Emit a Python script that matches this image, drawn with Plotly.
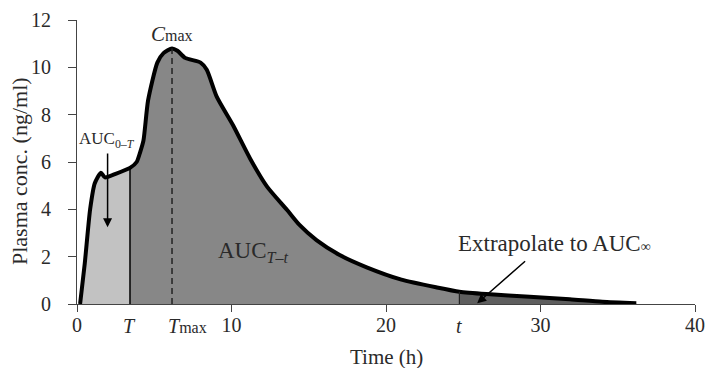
import plotly.graph_objects as go

# ---- data ----
time_h = [0.2, 0.5, 0.85, 1.15, 1.55, 1.81, 2.5, 3.43, 3.86, 4.08, 4.3, 4.6, 5.2, 5.6,
          6.15, 6.5, 7.0, 8.0, 8.4, 9.05, 10.1, 11.2, 12.3, 13.6, 14.4, 15.5, 17.0,
          18.75, 21.0, 23.3, 24.75, 26.5, 29.3, 31.9, 34.0, 36.2]
conc = [0.0, 1.7, 4.0, 5.1, 5.55, 5.35, 5.5, 5.75, 6.0, 6.4, 6.9, 8.6, 10.2, 10.6,
        10.8, 10.7, 10.4, 10.2, 9.9, 8.75, 7.55, 6.15, 4.96, 3.97, 3.34, 2.7, 2.07,
        1.55, 1.03, 0.70, 0.52, 0.42, 0.31, 0.2, 0.09, 0.03]
T_time = 3.43
Tmax_time = 6.15
t_time = 24.75
Cmax = 10.8
x_ticks = [0, 10, 20, 30, 40]
y_ticks = [0, 2, 4, 6, 8, 10, 12]

FONT = "Liberation Serif"
TXT = "#2a2a2a"

def seg(lo, hi):
    xs = [x for x in time_h if lo <= x <= hi]
    ys = [y for x, y in zip(time_h, conc) if lo <= x <= hi]
    return xs, ys

fig = go.Figure()
for (lo, hi), col in [((0, T_time), "#c2c2c2"), ((T_time, t_time), "#878787"),
                      ((t_time, 100), "#5e5e5e")]:
    xs, ys = seg(lo, hi)
    fig.add_trace(go.Scatter(x=xs, y=ys, mode="lines", fill="tozeroy", fillcolor=col,
                             line=dict(width=0, shape="spline", smoothing=0.6),
                             hoverinfo="skip", showlegend=False))

fig.add_trace(go.Scatter(x=time_h, y=conc, mode="lines",
                         line=dict(color="black", width=4, shape="spline", smoothing=0.6),
                         showlegend=False))

c_at_T = conc[time_h.index(T_time)]
c_at_t = conc[time_h.index(t_time)]
fig.add_shape(type="line", x0=T_time, x1=T_time, y0=0, y1=c_at_T,
              line=dict(color="black", width=1.5), layer="above")
fig.add_shape(type="line", x0=t_time, x1=t_time, y0=0, y1=c_at_t,
              line=dict(color="#222", width=1.2), layer="above")
fig.add_shape(type="line", x0=Tmax_time, x1=Tmax_time, y0=0, y1=Cmax,
              line=dict(color="#222", width=1.5, dash="6px,4px"), layer="above")

ann = []
ann.append(dict(x=Tmax_time, y=Cmax + 0.62, xref="x", yref="y", showarrow=False,
                text="<i>C</i><span style='font-size:16px'>max</span>",
                font=dict(family=FONT, size=21, color=TXT)))
ann.append(dict(x=0.0, y=6.95, xref="x", yref="y", showarrow=False, xanchor="left",
                text="AUC<sub>0–<i>T</i></sub>", font=dict(family=FONT, size=17, color=TXT)))
ann.append(dict(x=9.0, y=2.2, xref="x", yref="y", showarrow=False, xanchor="left",
                text="AUC<sub><i>T</i>–<i>t</i></sub>", font=dict(family=FONT, size=23, color=TXT)))
ann.append(dict(x=24.5, y=2.55, xref="x", yref="y", showarrow=False, xanchor="left",
                text="Extrapolate to AUC<span style='font-size:14px'>∞</span>",
                font=dict(family=FONT, size=23, color=TXT)))
# arrows
ann.append(dict(x=1.98, y=3.24, ax=1.98, ay=6.42, xref="x", yref="y", axref="x", ayref="y",
                text="", showarrow=True, arrowhead=2, arrowsize=1.2, arrowwidth=1.5,
                arrowcolor="black"))
ann.append(dict(x=25.9, y=0.03, ax=29.1, ay=1.86, xref="x", yref="y", axref="x", ayref="y",
                text="", showarrow=True, arrowhead=2, arrowsize=1.2, arrowwidth=1.5,
                arrowcolor="black"))
# special time labels on x axis
for xv, lab, xa, xs in [(T_time, "<i>T</i>", "center", 0),
                        (Tmax_time, "<i>T</i><span style='font-size:16px'>max</span>", "left", -6),
                        (t_time, "<i>t</i>", "center", 0)]:
    ann.append(dict(x=xv, y=-0.078, xref="x", yref="paper", showarrow=False, text=lab,
                    xanchor=xa, yanchor="middle", xshift=xs,
                    font=dict(family=FONT, size=20, color=TXT)))
# axis titles
ann.append(dict(x=0.5, y=-0.187, xref="paper", yref="paper", showarrow=False,
                xanchor="center", yanchor="middle",
                text="Time (h)", font=dict(family=FONT, size=21, color=TXT)))
ann.append(dict(x=-0.094, y=0.468, xref="paper", yref="paper", showarrow=False,
                xanchor="center", yanchor="middle",
                text="Plasma conc. (ng/ml)", textangle=-90,
                font=dict(family=FONT, size=22, color=TXT)))

fig.update_layout(
    width=706, height=368, margin=dict(l=77, r=11, t=20, b=64),
    paper_bgcolor="white", plot_bgcolor="white", annotations=ann,
    font=dict(family=FONT, size=20, color=TXT),
)
fig.update_xaxes(range=[0, 40], tickvals=x_ticks, showgrid=False, zeroline=False,
                 showline=True, linecolor="#444", linewidth=1.2, ticks="outside",
                 ticklen=7, tickcolor="#444", tickwidth=1.2, ticklabelstandoff=-4,
                 automargin=False, tickfont=dict(family=FONT, size=20, color=TXT))
fig.update_yaxes(range=[0, 12], tickvals=y_ticks, showgrid=False, zeroline=False,
                 showline=True, linecolor="#444", linewidth=1.2, ticks="outside",
                 ticklen=8, tickcolor="#444", tickwidth=1.2, ticklabelstandoff=13,
                 automargin=False, tickfont=dict(family=FONT, size=20, color=TXT))

fig.write_html("out.html", config={"displayModeBar": False},
               post_script="document.body.style.margin='0';")
